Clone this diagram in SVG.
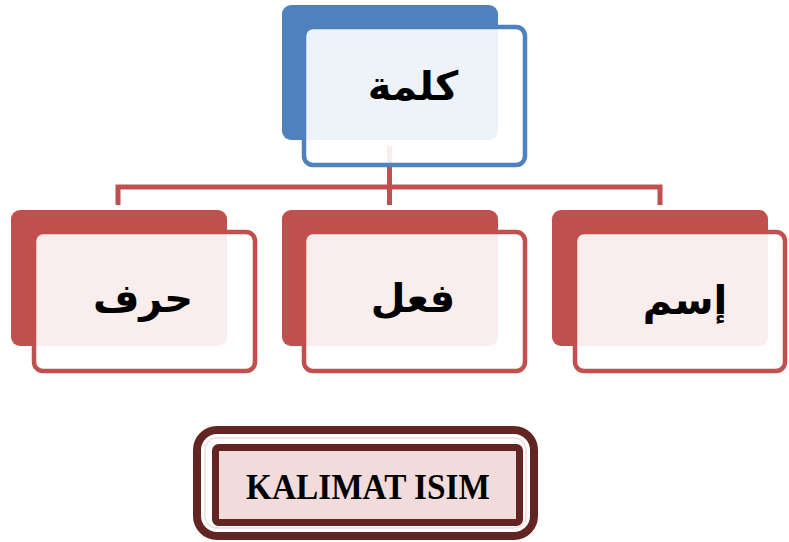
<svg xmlns="http://www.w3.org/2000/svg" width="789" height="542" viewBox="0 0 789 542">
<style>
.backB{fill:#4F81BD}
.backR{fill:#C0504D}
.frontB{fill:#FFFFFF;fill-opacity:0.9;stroke:#4F81BD;stroke-width:4.5}
.frontR{fill:#FFFFFF;fill-opacity:0.9;stroke:#C0504D;stroke-width:4.5}
.conn{fill:none;stroke:#C0504D;stroke-width:5}
.ar{font-family:"DejaVu Sans",sans-serif;font-weight:bold;font-size:40px;fill:#000;text-anchor:middle}
.lbl{font-family:"Liberation Serif",serif;font-weight:bold;font-size:36px;fill:#000;text-anchor:middle}
</style>
<rect width="789" height="542" fill="#FFFFFF"/>
<g id="connectors">
<path class="conn" d="M389.5 146 V187 M118 205 V187 H660 V205 M389.5 187 V205"/>
</g>
<g id="node-kalimah">
<rect class="backB" x="282" y="5" width="216" height="135" rx="9"/>
<rect class="frontB" x="304" y="27" width="221" height="138" rx="9"/>
<text class="ar" x="413" y="100">كلمة</text>
</g>
<g id="node-harf">
<rect class="backR" x="11" y="210" width="216" height="136" rx="9"/>
<rect class="frontR" x="34" y="232" width="221" height="139" rx="9"/>
<text class="ar" x="143" y="312">حرف</text>
</g>
<g id="node-fiil">
<rect class="backR" x="282" y="210" width="216" height="136" rx="9"/>
<rect class="frontR" x="304" y="232" width="221" height="139" rx="9"/>
<text class="ar" x="413" y="312">فعل</text>
</g>
<g id="node-ism">
<rect class="backR" x="552" y="210" width="216" height="136" rx="9"/>
<rect class="frontR" x="575" y="232" width="210" height="139" rx="9"/>
<text class="ar" x="685" y="314">إسم</text>
</g>
<g id="label-kalimat-isim">
<rect x="197" y="430" width="337" height="106" rx="20" fill="#FFFFFF" stroke="#632523" stroke-width="8"/>
<rect x="205" y="438" width="321" height="90" rx="12" fill="none" stroke="#F2DCDB" stroke-width="1.5"/>
<rect x="215.5" y="447.5" width="304" height="75" rx="3" fill="#F2DCDB" stroke="#632523" stroke-width="7"/>
<text class="lbl" x="368" y="499" textLength="244" lengthAdjust="spacingAndGlyphs">KALIMAT ISIM</text>
</g>
</svg>
